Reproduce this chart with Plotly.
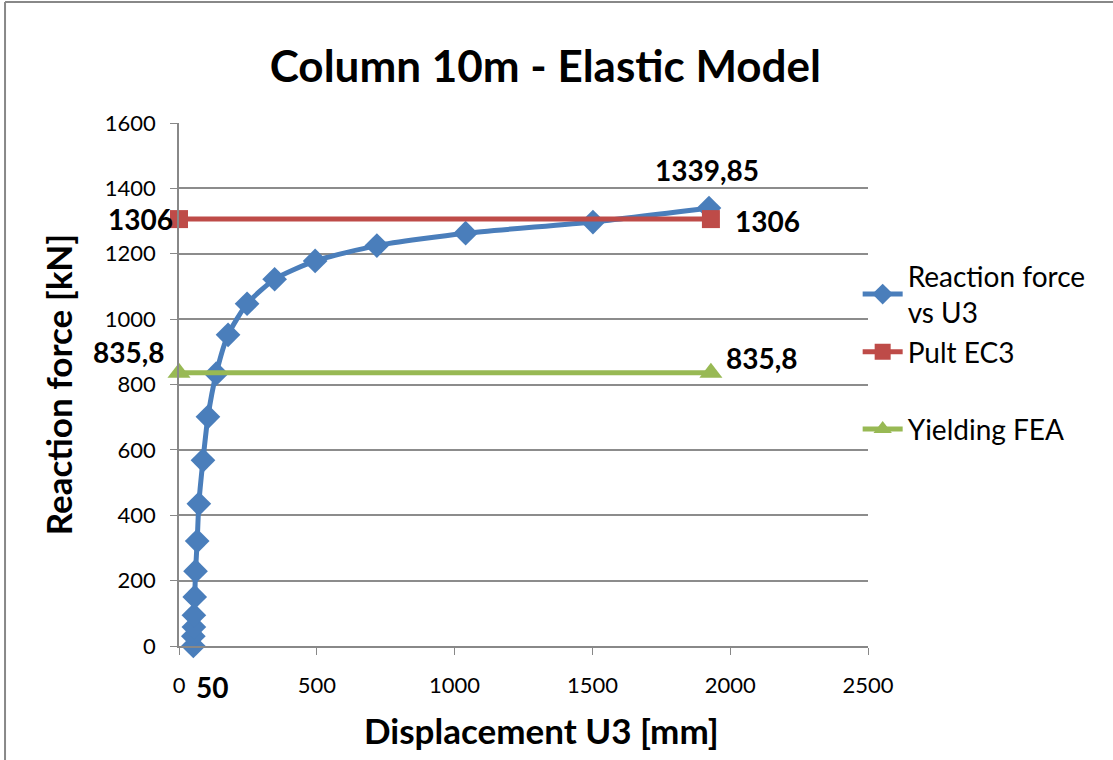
import plotly.graph_objects as go

disp = [52, 52, 54, 54, 57, 60, 66, 72, 87, 105, 135, 178, 247, 347, 494, 718, 1040, 1502, 1923]
force = [0, 30, 58, 94, 150, 229, 321, 435, 568, 701, 833, 952, 1047, 1122, 1178, 1225, 1263, 1297, 1339.85]

pult_x = [0, 1930]
pult_y = [1306, 1306]
yield_x = [0, 1930]
yield_y = [835.8, 835.8]

BLUE = "#4A7EBB"
RED = "#BE4B48"
GREEN = "#98B954"
FONT = "Lato"

fig = go.Figure()
fig.add_trace(go.Scatter(x=disp, y=force, mode="lines+markers", name="Reaction force<br>vs U3",
                         line=dict(color=BLUE, width=5, shape="spline", smoothing=0.6),
                         marker=dict(symbol="diamond", size=19, color=BLUE), cliponaxis=False))
fig.add_trace(go.Scatter(x=pult_x, y=pult_y, mode="lines+markers", name="Pult EC3",
                         line=dict(color=RED, width=5),
                         marker=dict(symbol="square", size=18, color=RED), cliponaxis=False))
fig.add_trace(go.Scatter(x=yield_x, y=yield_y, mode="lines+markers", name="Yielding FEA",
                         line=dict(color=GREEN, width=5), legend="legend2",
                         marker=dict(symbol="triangle-up", size=20, color=GREEN), cliponaxis=False))

ann = []
def label(text, x, y, xanchor="center", yanchor="middle", xshift=0, yshift=0, yref="y"):
    ann.append(dict(text=text, x=x, y=y, xref="x", yref=yref, showarrow=False,
                    xanchor=xanchor, yanchor=yanchor, xshift=xshift, yshift=yshift,
                    font=dict(family=FONT, size=28, color="black")))

label("<b>1339,85</b>", disp[-1], force[-1], yshift=38, xshift=-2)
label("<b>1306</b>", pult_x[0], pult_y[0], xanchor="right", xshift=-4)
label("<b>1306</b>", pult_x[1], pult_y[1], xanchor="left", xshift=22, yshift=-2)
label("<b>835,8</b>", yield_x[0], yield_y[0], xanchor="right", xshift=-12, yshift=21)
label("<b>835,8</b>", yield_x[1], yield_y[1], xanchor="left", xshift=13, yshift=15)
label("<b>50</b>", 50, 0, yshift=-41, xshift=19)

ann.append(dict(text="<b>Displacement U3 [mm]</b>", x=0.526, y=-0.161, xref="paper", yref="paper",
                showarrow=False, xanchor="center", yanchor="middle",
                font=dict(family=FONT, size=35, color="black")))

legend_font = dict(family=FONT, size=28, color="black")
fig.update_layout(
    width=1113, height=760,
    margin=dict(l=179, r=245, t=123, b=114, autoexpand=False),
    paper_bgcolor="white", plot_bgcolor="white",
    font=dict(family=FONT, color="black"),
    title=dict(text="<b>Column 10m - Elastic Model</b>", x=0.49, xanchor="center",
               y=0.912, yanchor="middle", font=dict(family=FONT, size=44, color="black")),
    annotations=ann,
    showlegend=True,
    legend=dict(x=0.985, xanchor="left", y=0.755, yanchor="top", font=legend_font,
                tracegroupgap=0, itemwidth=40, bgcolor="rgba(0,0,0,0)"),
    legend2=dict(x=0.985, xanchor="left", y=0.462, yanchor="top", font=legend_font,
                 itemwidth=40, bgcolor="rgba(0,0,0,0)"),
    xaxis=dict(range=[0, 2500], dtick=500, tick0=0, showgrid=False, showline=True, linecolor="#888888",
               linewidth=1.5, ticks="outside", ticklen=7, tickcolor="#888888", zeroline=False,
               tickfont=dict(family=FONT, size=22), ticklabelstandoff=12),
    yaxis=dict(range=[0, 1600], dtick=200, tick0=0, showgrid=True, gridcolor="#8c8c8c", gridwidth=1.5,
               showline=True, linecolor="#888888", linewidth=1.5, ticks="outside", ticklen=7,
               tickcolor="#888888", zeroline=False, tickfont=dict(family=FONT, size=22), ticklabelstandoff=10,
               title=dict(text="<b>Reaction force [kN]</b>", font=dict(family=FONT, size=35), standoff=22)),
    shapes=[
        dict(type="line", xref="paper", yref="paper", x0=-0.2525, x1=1.5, y0=1.2314, y1=1.2314,
             line=dict(color="#888888", width=2)),
        dict(type="line", xref="paper", yref="paper", x0=-0.2525, x1=-0.2525, y0=1.2314, y1=-0.3,
             line=dict(color="#888888", width=2)),
    ],
)
fig.write_html("out.html")
